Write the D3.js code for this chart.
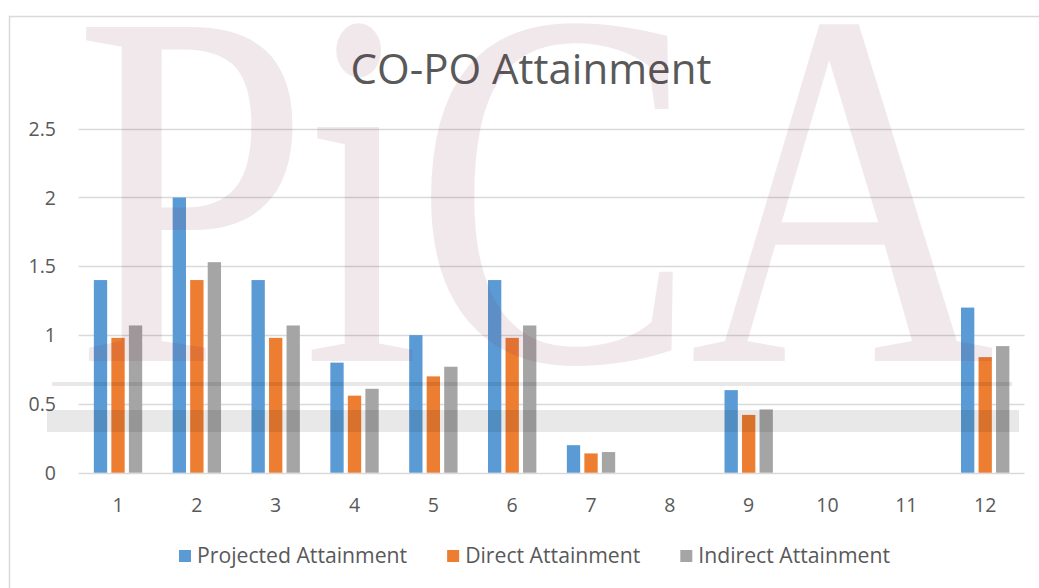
<!DOCTYPE html>
<html>
<head>
<meta charset="utf-8">
<script src="https://cdn.jsdelivr.net/npm/d3@7"></script>
<style>
  body { margin: 0; background: #fff; }
  svg text { font-family: "Open Sans", "Noto Sans", sans-serif; }
</style>
</head>
<body>
<div id="chart"></div>
<script>
var width = 1039
var height = 588

// data
var categories = ['1', '2', '3', '4', '5', '6', '7', '8', '9', '10', '11', '12']
var seriesNames = ['Projected Attainment', 'Direct Attainment', 'Indirect Attainment']
var projected = [1.4, 2, 1.4, 0.8, 1, 1.4, 0.2, 0, 0.6, 0, 0, 1.2]
var direct = [0.98, 1.4, 0.98, 0.56, 0.7, 0.98, 0.14, 0, 0.42, 0, 0, 0.84]
var indirect = [1.07, 1.53, 1.07, 0.61, 0.77, 1.07, 0.15, 0, 0.46, 0, 0, 0.92]
var yTicks = [0, 0.5, 1, 1.5, 2, 2.5]
var colors = ['#5b9bd5', '#ed7d31', '#a5a5a5']

var seriesValues = [projected, direct, indirect]
var rows = categories.map((c, i) => ({
    cat: c,
    vals: seriesNames.map((s, j) => ({ series: s, idx: j, value: seriesValues[j][i] }))
}))

var plot = { left: 78.6, right: 1024.6, top: 128.7, bottom: 472.7 }

var xScale = d3.scaleBand()
    .domain(categories)
    .range([plot.left, plot.right])
    .padding(0)

var innerScale = d3.scaleBand()
    .domain(seriesNames)
    .range([0, xScale.bandwidth()])
    .paddingInner(0.24)
    .paddingOuter(0.87)

var yScale = d3.scaleLinear()
    .domain([0, 2.5])
    .range([plot.bottom, plot.top])

var svg = d3.select('#chart').append('svg')
    .attr('width', width)
    .attr('height', height)

// chart frame (runs off the bottom/right of the picture)
svg.append('rect')
    .attr('x', 9.5).attr('y', 16.5)
    .attr('width', 1100).attr('height', 700)
    .style('fill', '#fff')
    .style('stroke', '#d9d9d9')
    .style('stroke-width', 1.5)

// gridlines
svg.append('g')
    .selectAll('line')
    .data(yTicks)
    .enter().append('line')
    .attr('x1', plot.left).attr('x2', plot.right)
    .attr('y1', d => Math.round(yScale(d)) + 0.5)
    .attr('y2', d => Math.round(yScale(d)) + 0.5)
    .style('stroke', '#d9d9d9')
    .style('stroke-width', 1.3)

// y tick labels
svg.append('g')
    .selectAll('text')
    .data(yTicks)
    .enter().append('text')
    .attr('x', 56)
    .attr('y', d => yScale(d))
    .attr('dy', '0.36em')
    .attr('text-anchor', 'end')
    .attr('font-size', 19.5)
    .style('fill', '#595959')
    .text(d => d)

// x tick labels
svg.append('g')
    .selectAll('text')
    .data(categories)
    .enter().append('text')
    .attr('x', d => xScale(d) + xScale.bandwidth() / 2)
    .attr('y', 512)
    .attr('text-anchor', 'middle')
    .attr('font-size', 19.5)
    .style('fill', '#595959')
    .text(d => d)

// bars
var groups = svg.append('g').selectAll('g.cat')
    .data(rows)
    .enter().append('g')
    .attr('class', 'cat')
    .attr('transform', d => `translate(${xScale(d.cat)},0)`)

groups.selectAll('rect')
    .data(d => d.vals.filter(v => v.value > 0))
    .enter().append('rect')
    .attr('x', d => innerScale(d.series))
    .attr('width', innerScale.bandwidth())
    .attr('y', d => yScale(d.value))
    .attr('height', d => yScale(0) - yScale(d.value))
    .style('fill', d => colors[d.idx])

// title
svg.append('text')
    .attr('x', 531)
    .attr('y', 84)
    .attr('text-anchor', 'middle')
    .attr('font-size', 42)
    .style('fill', '#595959')
    .text('CO-PO Attainment')

// legend
var legend = svg.append('g').attr('class', 'legend')
var lx = 179
seriesNames.forEach((name, i) => {
    var item = legend.append('g').attr('transform', `translate(${lx},0)`)
    item.append('rect')
        .attr('x', 0).attr('y', 550)
        .attr('width', 12).attr('height', 12)
        .style('fill', colors[i])
    var t = item.append('text')
        .attr('x', 18).attr('y', 563)
        .attr('font-size', 21.2)
        .style('fill', '#595959')
        .text(name)
    lx += 18 + t.node().getComputedTextLength() + 40
})

// watermark overlay
var mark = svg.append('g').attr('class', 'watermark').style('pointer-events', 'none')

mark.append('text')
    .attr('transform', 'translate(74,361) scale(0.83,1)')
    .attr('font-size', 510)
    .attr('letter-spacing', -8)
    .style('font-family', '"Liberation Serif", serif')
    .style('fill', '#7a1f45')
    .style('fill-opacity', 0.1)
    .text('PiCA')

mark.append('rect')
    .attr('x', 52).attr('y', 382)
    .attr('width', 960).attr('height', 4)
    .style('fill', '#000').style('fill-opacity', 0.09)

mark.append('rect')
    .attr('x', 47).attr('y', 410)
    .attr('width', 972).attr('height', 22)
    .style('fill', '#000').style('fill-opacity', 0.09)
</script>
</body>
</html>
